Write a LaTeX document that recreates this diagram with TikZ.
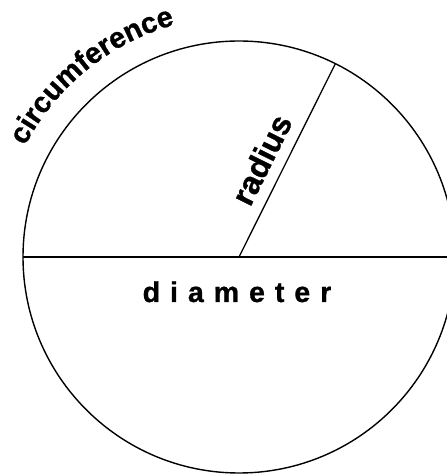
\documentclass[tikz,border=0pt]{standalone}
\usepackage{fontspec}
\setmainfont{Liberation Sans}
\newfontfamily\lblfont{Liberation Sans Bold}[FakeBold=1]
\newfontfamily\spacedfont{Liberation Sans Bold}[LetterSpace=35, FakeBold=1]
\usetikzlibrary{decorations.text,calc}
\tikzset{
  rim/.style={line width=1.4pt},
  diam/.style={line width=2pt},
  rad/.style={line width=1.3pt},
  lbl/.style={font=\lblfont\fontsize{28}{30}\selectfont, inner sep=0pt}
}
\begin{document}
\begin{tikzpicture}[x=1pt,y=1pt]
\useasboundingbox (0,0) rectangle (447,474);
\clip (0,0) rectangle (447,474);
\coordinate (O) at (239,217);
\coordinate (L) at (23,217);
\coordinate (R) at (447,217);
\coordinate (P) at ($(O)+(63.5:216)$);
\draw[rim] (O) circle (216);
\draw[diam] (L) -- (R);
\draw[rad] (O) -- (P) node[pos=0.45, sloped, above=11pt, lbl, font=\lblfont\fontsize{32}{34}\selectfont] (radlbl) {radius};
\node[lbl, anchor=base] (diamlbl) at (237,172) {\spacedfont\fontsize{28.5}{30}\selectfont diameter};
\path[decorate, decoration={text along path, text align=center,
  text={|\lblfont\fontsize{29}{30}\selectfont|circumference}}]
  ($(O)+(164:241)$) arc[start angle=164, end angle=94, radius=241];
\end{tikzpicture}
\end{document}
